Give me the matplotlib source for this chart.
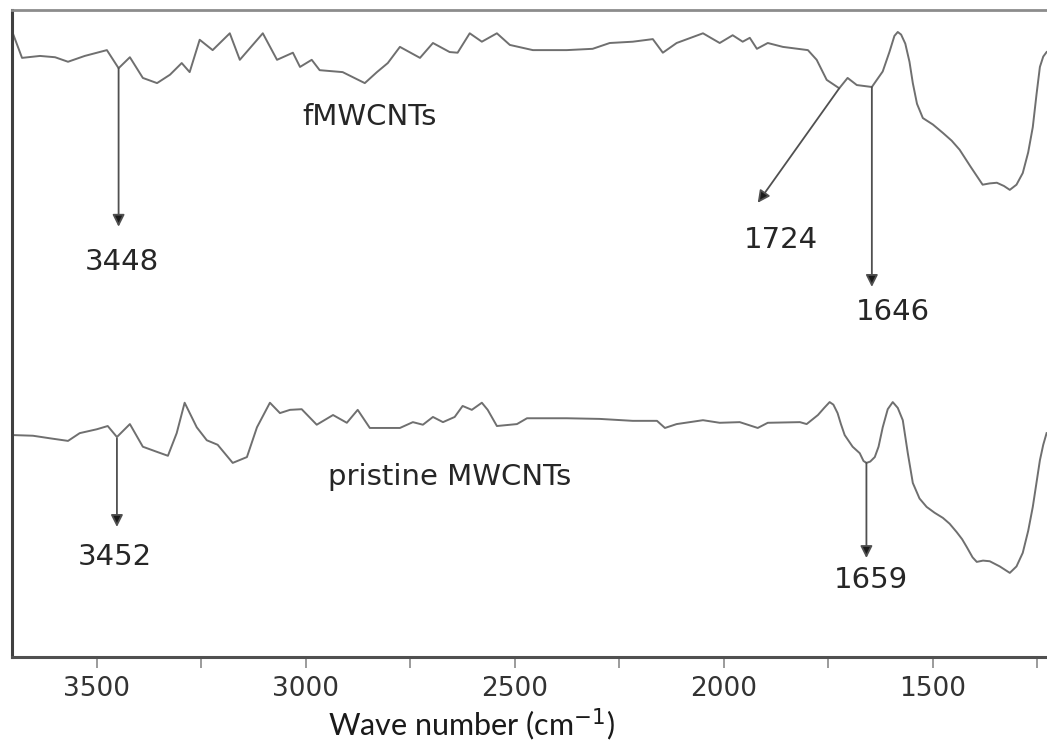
import numpy as np
import matplotlib
matplotlib.use("Agg")
import matplotlib.pyplot as plt
from matplotlib.ticker import MultipleLocator

# FTIR spectra (wavenumber in cm^-1, transmittance in a.u.)
fmw_wn = [3701, 3679, 3636, 3600, 3569, 3529, 3476, 3448, 3421, 3390, 3356, 3325,
          3297, 3278, 3254, 3223, 3182, 3158, 3103, 3069, 3031, 3014, 2986, 2967,
          2912, 2859, 2830, 2804, 2775, 2727, 2696, 2656, 2637, 2608, 2579, 2543,
          2512, 2457, 2376, 2314, 2273, 2218, 2170, 2146, 2113, 2050, 2010, 1979,
          1955, 1938, 1921, 1895, 1859, 1799, 1778, 1754, 1724, 1704, 1682, 1646,
          1620, 1604, 1592, 1584, 1576, 1566, 1556, 1548, 1538, 1524, 1500, 1476,
          1455, 1436, 1410, 1381, 1364, 1347, 1330, 1316, 1300, 1285, 1272, 1261,
          1252, 1244, 1236, 1228]
fmw_t = [96.4, 92.6, 92.9, 92.7, 92.0, 92.9, 93.8, 91.0, 92.7, 89.5, 88.7, 90.0,
         91.8, 90.4, 95.4, 93.8, 96.4, 92.3, 96.4, 92.3, 93.4, 91.2, 92.3, 90.7,
         90.4, 88.7, 90.4, 91.8, 94.3, 92.6, 94.9, 93.5, 93.4, 96.4, 95.1, 96.4,
         94.6, 93.8, 93.8, 94.0, 94.9, 95.1, 95.5, 93.4, 94.9, 96.4, 94.9, 96.1,
         95.1, 95.7, 94.0, 94.9, 94.3, 93.8, 92.3, 89.2, 87.9, 89.5, 88.4, 88.1,
         90.5, 93.5, 96.0, 96.6, 96.2, 94.8, 92.0, 88.7, 85.5, 83.3, 82.3, 81.0,
         79.8, 78.4, 75.8, 73.0, 73.2, 73.3, 72.8, 72.2, 73.0, 74.8, 78.0, 81.9,
         87.0, 91.2, 92.8, 93.5]

pri_wn = [3701, 3653, 3612, 3569, 3541, 3500, 3474, 3452, 3421, 3390, 3356, 3330,
          3309, 3290, 3261, 3237, 3211, 3175, 3141, 3117, 3086, 3062, 3038, 3010,
          2974, 2935, 2902, 2876, 2847, 2775, 2744, 2720, 2696, 2672, 2644, 2625,
          2603, 2579, 2565, 2543, 2495, 2471, 2376, 2297, 2218, 2160, 2141, 2113,
          2050, 2010, 1962, 1919, 1895, 1818, 1802, 1775, 1760, 1747, 1738, 1728,
          1720, 1711, 1692, 1675, 1666, 1659, 1650, 1639, 1630, 1620, 1608, 1596,
          1584, 1572, 1560, 1548, 1532, 1515, 1496, 1476, 1460, 1443, 1430, 1419,
          1405, 1395, 1380, 1364, 1340, 1316, 1300, 1285, 1272, 1261, 1252, 1244,
          1236, 1228]
pri_t = [34.3, 34.2, 33.8, 33.4, 34.6, 35.2, 35.7, 34.0, 36.0, 32.5, 31.7, 31.1,
         34.6, 39.3, 35.5, 33.5, 32.8, 30.0, 30.9, 35.5, 39.3, 37.7, 38.2, 38.3,
         35.9, 37.4, 36.2, 38.2, 35.4, 35.4, 36.3, 35.9, 37.1, 36.3, 37.1, 38.8,
         38.2, 39.3, 38.2, 35.7, 36.0, 36.9, 36.9, 36.8, 36.5, 36.5, 35.4, 36.0,
         36.6, 36.2, 36.3, 35.4, 36.2, 36.3, 36.0, 37.4, 38.5, 39.4, 39.0, 37.7,
         36.0, 34.3, 32.5, 31.5, 30.3, 30.0, 30.2, 30.9, 32.5, 35.5, 38.3, 39.4,
         38.5, 36.6, 31.5, 26.9, 24.5, 23.2, 22.3, 21.5, 20.6, 19.3, 18.2, 17.0,
         15.4, 14.7, 14.9, 14.8, 14.0, 13.0, 14.0, 16.1, 19.5, 23.2, 27.0, 30.4,
         32.8, 34.6]

# marked bands: label, band position, start on curve, arrow tip, label x, label y
peaks = [
    ("3448", 3448, 91.0, 66.5, 3440, 61.1),
    ("1724", 1724, 87.9, 70.2, 1864, 64.5),
    ("1646", 1646, 88.1, 57.2, 1596, 53.3),
    ("3452", 3452, 33.8, 20.1, 3457, 15.5),
    ("1659", 1659, 30.0, 15.3, 1649, 11.9),
]
tip_x = {"1724": 1919}

fig = plt.figure(figsize=(10.47, 7.47), dpi=100)
ax = fig.add_axes([12 / 1047, 90 / 747, 1 - 12 / 1047, 647 / 747])

line_c = "#6f6f6f"
ax.plot(fmw_wn, fmw_t, color=line_c, lw=1.4)
ax.plot(pri_wn, pri_t, color=line_c, lw=1.4)

for name, wn, y0, y1, lx, ly in peaks:
    ax.annotate("", xy=(tip_x.get(name, wn), y1), xytext=(wn, y0),
                arrowprops=dict(arrowstyle="-|>", color="#505050", lw=1.3,
                                mutation_scale=18, shrinkA=0, shrinkB=0,
                                fc="#1a1a1a"))
    ax.text(lx, ly, name, ha="center", va="center", fontsize=21,
            family="DejaVu Sans", color="#262626")

ax.text(2847, 83.5, "fMWCNTs", ha="center", va="center", fontsize=21,
        family="DejaVu Sans", color="#262626")
ax.text(2656, 27.8, "pristine MWCNTs", ha="center", va="center", fontsize=21,
        family="DejaVu Sans", color="#262626")

ax.set_xlim(3703, 1227)
ax.set_ylim(0, 100)
ax.set_yticks([])
ax.xaxis.set_major_locator(MultipleLocator(500))
ax.xaxis.set_minor_locator(MultipleLocator(250))
ax.tick_params(axis="x", which="both", direction="out", length=8, width=1.2,
               color="#8a8a8a", labelsize=19, labelcolor="#333333", pad=6)
for lbl in ax.get_xticklabels():
    lbl.set_family("DejaVu Sans")

ax.spines["right"].set_visible(False)
ax.spines["top"].set_color("#8c8c8c")
ax.spines["top"].set_linewidth(2)
ax.spines["left"].set_color("#404040")
ax.spines["left"].set_linewidth(2.2)
ax.spines["bottom"].set_color("#505050")
ax.spines["bottom"].set_linewidth(2.2)

plt.rcParams["mathtext.fontset"] = "custom"
plt.rcParams["mathtext.rm"] = "Lato"
ax.set_xlabel("Wave number (cm$^{\\mathrm{-1}}$)", fontsize=22, family="Lato",
              color="#1a1a1a")
ax.xaxis.set_label_coords(0.444, -0.076)

fig.savefig("out.png", dpi=100)
